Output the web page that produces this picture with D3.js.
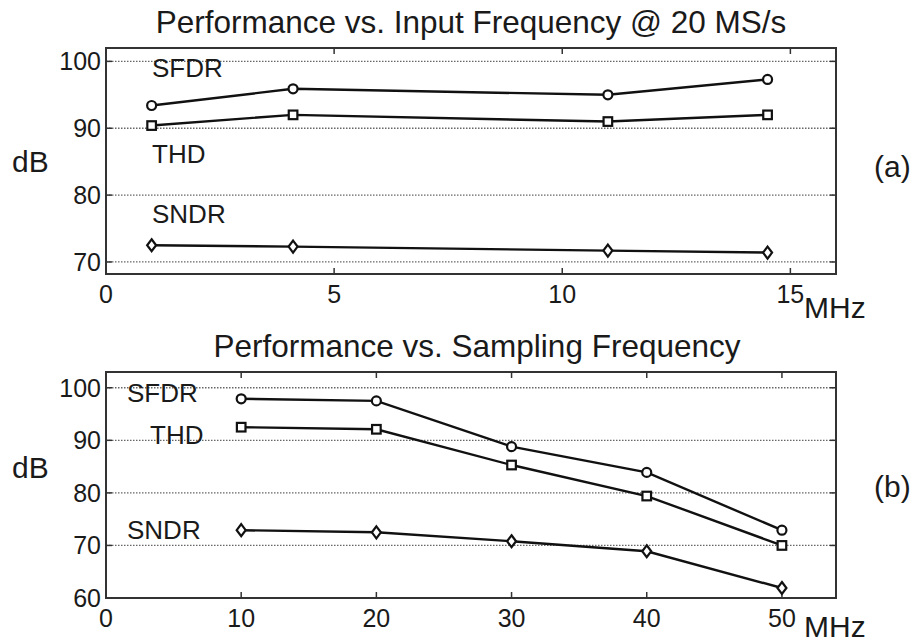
<!DOCTYPE html>
<html>
<head>
<meta charset="utf-8">
<script src="https://cdn.jsdelivr.net/npm/d3@7"></script>
<style>
  body { margin: 0; background: #fff; }
  svg text { font-family: "Liberation Sans", Arial, sans-serif; fill: #1a1a1a; }
</style>
</head>
<body>
<svg width="916" height="642"></svg>
<script>
const svg = d3.select("svg");

// (a) performance vs input frequency @ 20 MS/s
const inputFreq = [1, 4.1, 11, 14.5];
const sfdrA = [93.4, 95.9, 95.0, 97.3];
const thdA = [90.4, 92.0, 91.0, 92.0];
const sndrA = [72.5, 72.3, 71.7, 71.4];
const xTicksA = [0, 5, 10, 15];
const yTicksA = [70, 80, 90, 100];

// (b) performance vs sampling frequency
const sampFreq = [10, 20, 30, 40, 50];
const sfdrB = [97.9, 97.5, 88.8, 83.9, 72.9];
const thdB = [92.5, 92.1, 85.3, 79.4, 70.0];
const sndrB = [72.9, 72.5, 70.8, 68.9, 61.9];
const xTicksB = [0, 10, 20, 30, 40, 50];
const yTicksB = [60, 70, 80, 90, 100];

const seriesNames = ["SFDR", "THD", "SNDR"];
const markers = {SFDR: "circle", THD: "square", SNDR: "diamond"};

function panel(cfg) {
  const g = svg.append("g");
  const x = d3.scaleLinear().domain(cfg.xDomain).range([106, 836]);
  const y = d3.scaleLinear().domain(cfg.yDomain).range([cfg.bottom, cfg.top]);
  const tick = 6;

  // dotted grid
  g.selectAll(".grid").data(cfg.yTicks).join("line")
    .attr("x1", x.range()[0]).attr("x2", x.range()[1])
    .attr("y1", d => y(d)).attr("y2", d => y(d))
    .attr("stroke", "#666").attr("stroke-width", 1.3)
    .attr("stroke-dasharray", "1.5,1.5");

  // frame
  g.append("rect")
    .attr("x", x.range()[0]).attr("y", cfg.top)
    .attr("width", x.range()[1] - x.range()[0]).attr("height", cfg.bottom - cfg.top)
    .attr("fill", "none").attr("stroke", "#333").attr("stroke-width", 2);

  // inward ticks on all sides
  cfg.xTicks.forEach(t => {
    g.append("line").attr("x1", x(t)).attr("x2", x(t)).attr("y1", cfg.bottom).attr("y2", cfg.bottom - tick)
      .attr("stroke", "#333").attr("stroke-width", 1.5);
    g.append("line").attr("x1", x(t)).attr("x2", x(t)).attr("y1", cfg.top).attr("y2", cfg.top + tick)
      .attr("stroke", "#333").attr("stroke-width", 1.5);
  });
  cfg.yTicks.forEach(t => {
    g.append("line").attr("x1", x.range()[0]).attr("x2", x.range()[0] + tick).attr("y1", y(t)).attr("y2", y(t))
      .attr("stroke", "#333").attr("stroke-width", 1.5);
    g.append("line").attr("x1", x.range()[1]).attr("x2", x.range()[1] - tick).attr("y1", y(t)).attr("y2", y(t))
      .attr("stroke", "#333").attr("stroke-width", 1.5);
  });

  // tick labels
  g.selectAll(".yl").data(cfg.yTicks).join("text")
    .attr("x", 101).attr("y", d => y(d)).attr("dy", "0.36em")
    .attr("text-anchor", "end").attr("font-size", 25).text(d => d);
  g.selectAll(".xl").data(cfg.xTicks).join("text")
    .attr("x", d => x(d)).attr("y", cfg.bottom + 29)
    .attr("text-anchor", "middle").attr("font-size", 25).text(d => d);

  // titles
  g.append("text").attr("x", cfg.titleX).attr("y", cfg.top - 15)
    .attr("text-anchor", "middle").attr("font-size", 31.5).text(cfg.title);
  g.append("text").attr("x", 12).attr("y", cfg.dbY).attr("font-size", 30).text("dB");
  g.append("text").attr("x", 804).attr("y", cfg.bottom + cfg.mhzDy).attr("font-size", 30).text("MHz");
  g.append("text").attr("x", 874).attr("y", cfg.tagY).attr("font-size", 30).text(cfg.tag);

  // lines + markers
  const line = d3.line().x(d => x(d[0])).y(d => y(d[1]));
  cfg.series.forEach((vals, i) => {
    const name = seriesNames[i];
    const pts = cfg.xs.map((xv, j) => [xv, vals[j]]);
    g.append("path").datum(pts).attr("d", line)
      .attr("fill", "none").attr("stroke", "#111").attr("stroke-width", 2.4);
    const m = markers[name];
    const mg = g.append("g");
    pts.forEach(p => {
      const cx = x(p[0]), cy = y(p[1]);
      if (m === "circle") {
        mg.append("circle").attr("cx", cx).attr("cy", cy).attr("r", 4.5);
      } else if (m === "square") {
        mg.append("rect").attr("x", cx - 4.3).attr("y", cy - 4.3).attr("width", 8.6).attr("height", 8.6);
      } else {
        mg.append("path").attr("d", `M${cx},${cy - 6}L${cx + 4.5},${cy}L${cx},${cy + 6}L${cx - 4.5},${cy}Z`);
      }
    });
    mg.selectAll("*").attr("fill", "#fff").attr("stroke", "#111").attr("stroke-width", 2.2);

    const lab = cfg.labels[i];
    g.append("text").attr("x", lab[0]).attr("y", lab[1]).attr("font-size", 26).text(name);
  });
}

panel({
  top: 48, bottom: 274,
  xDomain: [0, 16], yDomain: [68.2, 102],
  xTicks: xTicksA, yTicks: yTicksA,
  xs: inputFreq, series: [sfdrA, thdA, sndrA],
  title: "Performance vs. Input Frequency @ 20 MS/s", titleX: 471,
  labels: [[152, 77], [152, 163], [152, 223]],
  dbY: 172, mhzDy: 44, tag: "(a)", tagY: 177
});

panel({
  top: 372, bottom: 598,
  xDomain: [0, 54], yDomain: [60, 103],
  xTicks: xTicksB, yTicks: yTicksB,
  xs: sampFreq, series: [sfdrB, thdB, sndrB],
  title: "Performance vs. Sampling Frequency", titleX: 477,
  labels: [[127, 402], [150, 444], [127, 539]],
  dbY: 478, mhzDy: 39, tag: "(b)", tagY: 497
});
</script>
</body>
</html>
